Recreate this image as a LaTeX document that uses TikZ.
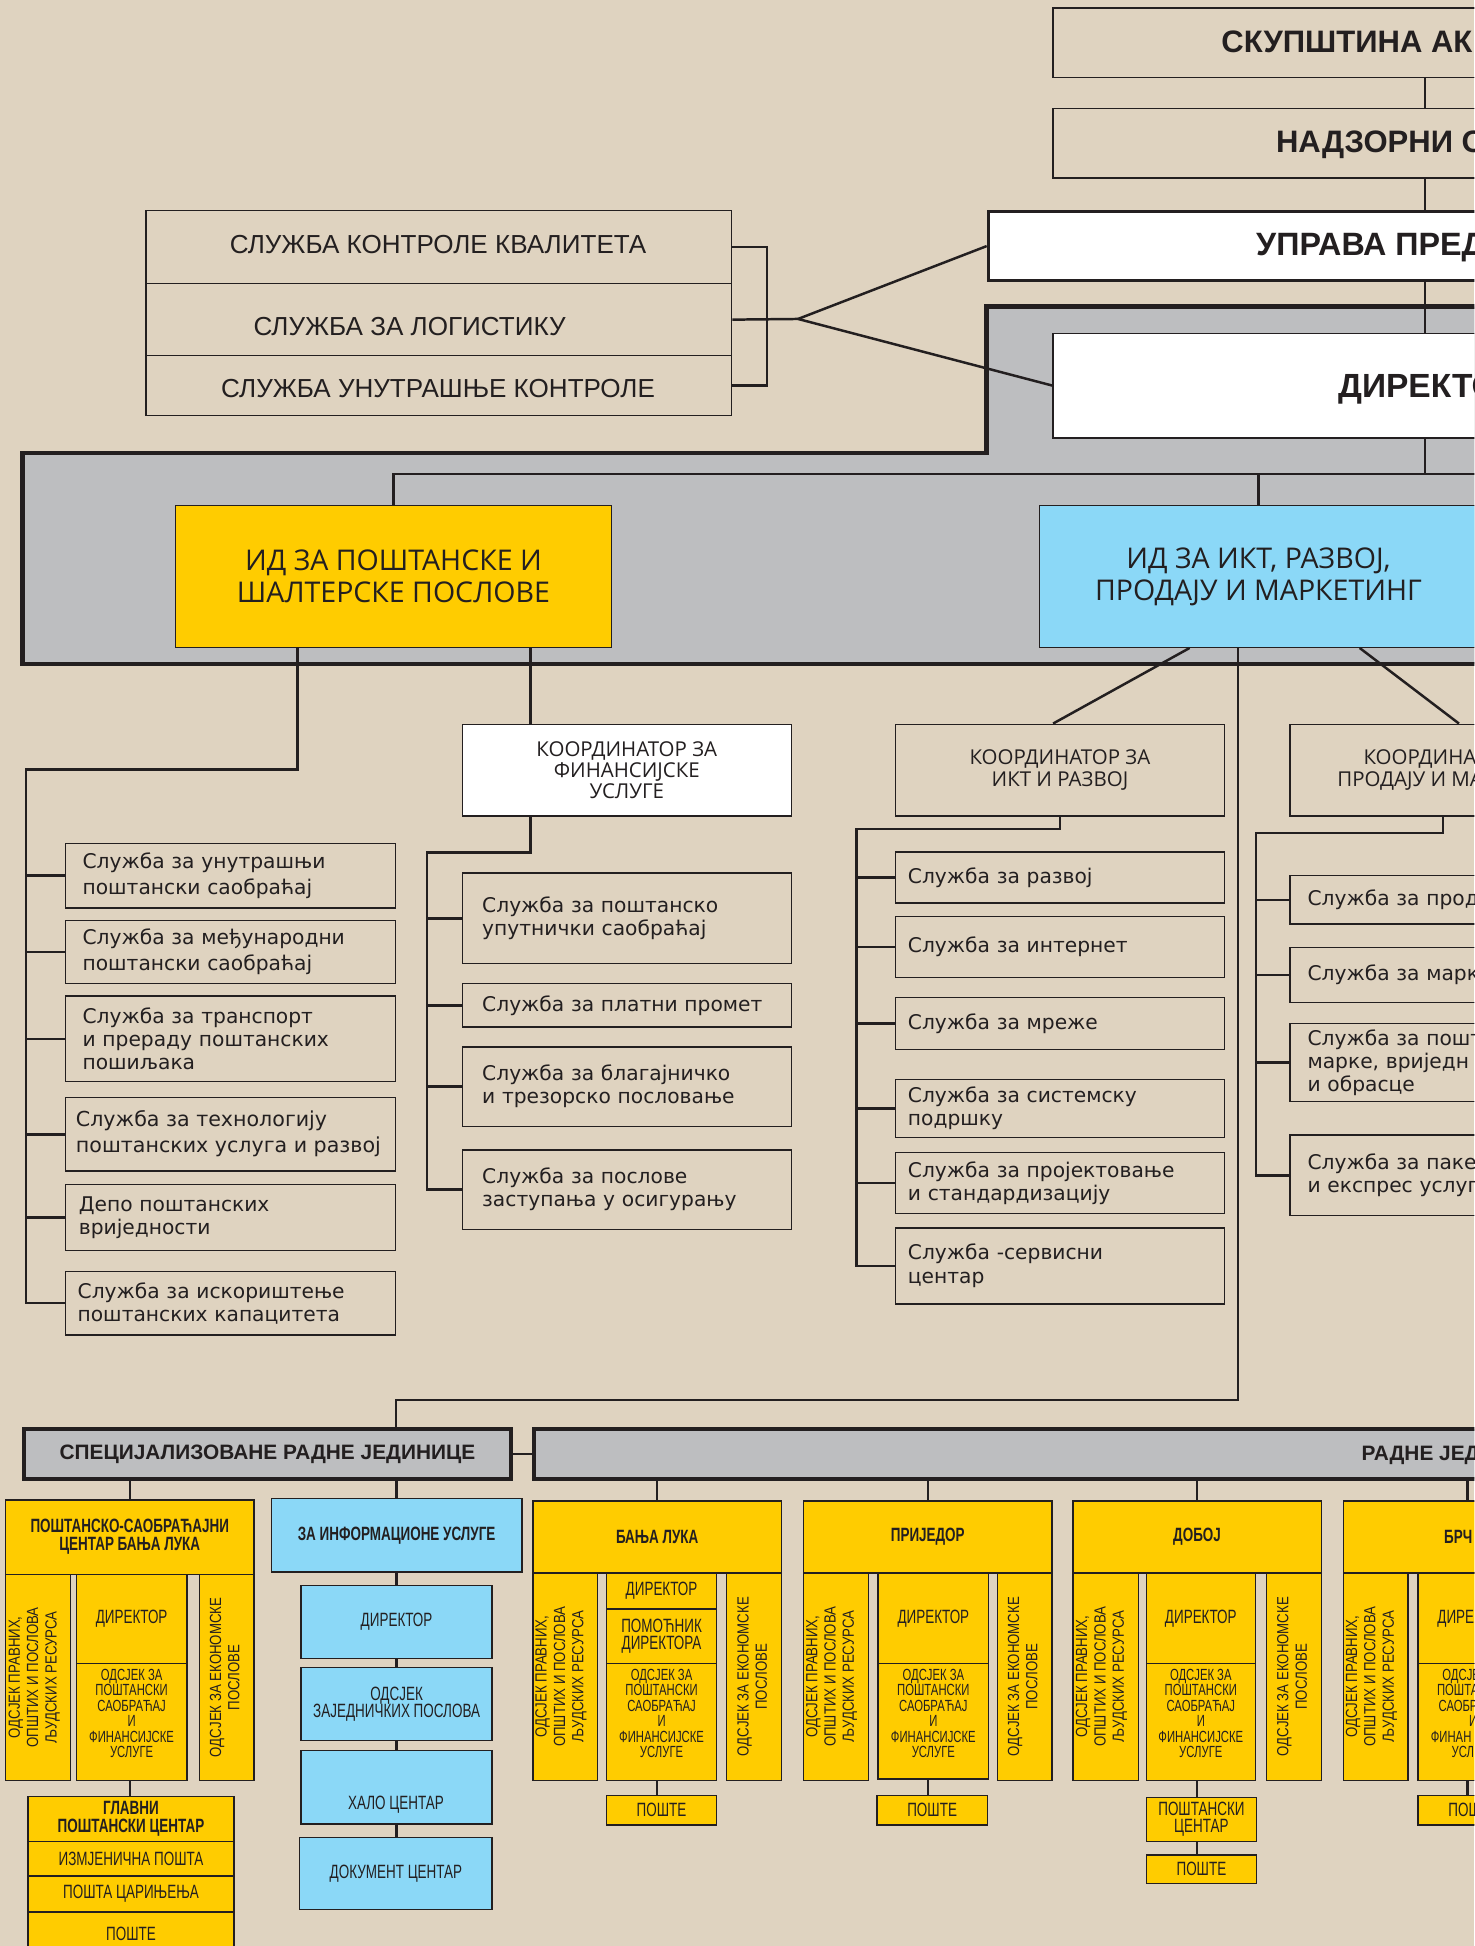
\documentclass[tikz,border=0pt]{standalone}
\usepackage{fontspec}
\setmainfont{Liberation Sans}
\newfontfamily\arialf{Liberation Sans}
\newfontfamily\condf[FakeStretch=0.7]{Liberation Sans}
\newfontfamily\condr[FakeStretch=0.82]{Liberation Sans}
\newfontfamily\opensf{Open Sans}
\newfontfamily\verdf{DejaVu Sans}
\definecolor{bg}{RGB}{223,211,192}
\definecolor{grayc}{RGB}{189,190,192}
\definecolor{yel}{RGB}{255,204,0}
\definecolor{lblue}{RGB}{139,216,247}
\definecolor{ink}{RGB}{35,31,32}
\newcommand{\mybox}[7][]{\pgfmathsetmacro\bw{#5-#3}\pgfmathsetmacro\bh{#6-#4}\node[box,minimum width=\bw pt,minimum height=\bh pt,#1] (#2) at (#3,#4) {#7};}
\newcommand{\mysbox}[8][]{\pgfmathsetmacro\bw{#5-#3-2*#7}\pgfmathsetmacro\bh{#6-#4}\node[box,align=left,text width=\bw pt,inner xsep=#7pt,minimum height=\bh pt,fSv,#1] (#2) at (#3,#4) {#8};}
\newcommand{\odjtxt}{ОДСЈЕК ЗА\\ПОШТАНСКИ\\САОБРАЋАЈ\\И\\ФИНАНСИЈСКЕ\\УСЛУГЕ}
\newcommand{\pravtxt}{ОДСЈЕК ПРАВНИХ,\\ОПШТИХ И ПОСЛОВА\\ЉУДСКИХ РЕСУРСА}
\newcommand{\ekotxt}{ОДСЈЕК ЗА ЕКОНОМСКЕ\\ПОСЛОВЕ}
\begin{document}
\begin{tikzpicture}[x=1pt,y=-1pt,
 box/.style={draw=ink,line width=1.1pt,inner sep=0pt,anchor=north west,align=center,text=ink},
 conn/.style={draw=ink,line width=2pt},
 lbl/.style={inner sep=0pt,text=ink,align=center},
 fTop/.style={font=\arialf\bfseries\fontsize{25}{27}\selectfont},
 fQ/.style={font=\arialf\fontsize{21}{23}\selectfont},
 fId/.style={font=\opensf\fontsize{23}{25.5}\selectfont},
 fCo/.style={font=\opensf\fontsize{16.5}{17}\selectfont},
 fSv/.style={font=\verdf\fontsize{16.3}{18.5}\selectfont},
 fSpec/.style={font=\arialf\bfseries\fontsize{16.8}{19}\selectfont},
 fHd/.style={font=\condf\bfseries\fontsize{15.5}{14.5}\selectfont},
 fRg/.style={font=\condf\fontsize{15.5}{14}\selectfont},
 fSm/.style={font=\condf\fontsize{13}{12.4}\selectfont},
 fRot/.style={font=\condr\fontsize{13}{14.8}\selectfont,rotate=90},
 yb/.style={fill=yel},
 bb/.style={fill=lblue},
]
\useasboundingbox (0,0) rectangle (1188,1568);
\clip (0,0) rectangle (1188,1568);
\fill[bg] (0,0) rectangle (1188,1568);

% gray band
\filldraw[fill=grayc,draw=ink,line width=3.5pt] (1260,247) -- (795,247) -- (795,365) -- (18,365) -- (18,535) -- (1260,535);

% top boxes
\mybox{skup}{848}{6}{1260}{62}{}
\node[lbl,fTop,anchor=base west] (skupt) at (984,42) {СКУПШТИНА АК};
\mybox{nadz}{848}{87}{1260}{143}{}
\node[lbl,fTop,anchor=base west] (nadzt) at (1028,123) {НАДЗОРНИ О};
\mybox[fill=white,line width=2.6pt]{upr}{795}{169}{1260}{225}{}
\node[lbl,font=\arialf\bfseries\fontsize{26}{28}\selectfont,anchor=base west] (uprt) at (1012,205.5) {УПРАВА ПРЕД};
\mybox[fill=white,line width=1.4pt]{dir}{848}{268}{1260}{352}{}
\node[lbl,font=\arialf\bfseries\fontsize{27}{29}\selectfont,anchor=base west] (dirt) at (1078,320) {ДИРЕКТО};

% quality / logistics / internal control
\mybox{sq1}{117}{169}{589}{228}{}
\mybox{sq2}{117}{228}{589}{286}{}
\mybox{sq3}{117}{286}{589}{334}{}
\node[lbl,fQ,anchor=base] (sq1t) at (353,204.5) {СЛУЖБА КОНТРОЛЕ КВАЛИТЕТА};
\node[lbl,fQ,anchor=base] (sq2t) at (330,270.5) {СЛУЖБА ЗА ЛОГИСТИКУ};
\node[lbl,fQ,anchor=base] (sq3t) at (353,320.5) {СЛУЖБА УНУТРАШЊЕ КОНТРОЛЕ};

% ID boxes
\mybox[yb,fId]{idpost}{141}{407}{492}{521}{ИД ЗА ПОШТАНСКЕ И\\ШАЛТЕРСКЕ ПОСЛОВЕ}
\mybox[bb,fId]{idikt}{837}{407}{1190}{521}{ИД ЗА ИКТ, РАЗВОЈ,\\ПРОДАЈУ И МАРКЕТИНГ}

% left services
\mysbox[font=\verdf\fontsize{16.3}{21}\selectfont]{ls1}{52}{679}{318}{731}{14}{Служба за унутрашњи\\поштански саобраћај}
\mysbox[font=\verdf\fontsize{16.3}{21}\selectfont]{ls2}{52}{741}{318}{792}{14}{Служба за међународни\\поштански саобраћај}
\mysbox{ls3}{52}{802}{318}{871}{14}{Служба за транспорт\\и прераду поштанских\\пошиљака}
\mybox{ls4}{52}{884}{318}{943}{}
\node[lbl,align=left,anchor=west,font=\verdf\fontsize{16.6}{21}\selectfont] (ls4t) at (61,913.5) {Служба за технологију\\поштанских услуга и развој};
\mysbox[font=\verdf\fontsize{16.3}{19}\selectfont]{ls5}{52}{954}{318}{1007}{11}{Депо поштанских\\вриједности}
\mysbox{ls6}{52}{1024}{318}{1075}{10}{Служба за искориштење\\поштанских капацитета}

% financial
\mybox[fill=white,fCo]{fink}{372}{583}{637}{657}{КООРДИНАТОР ЗА\\ФИНАНСИЈСКЕ\\УСЛУГЕ}
\mysbox{fs1}{372}{703}{637}{776}{16}{Служба за поштанско\\упутнички саобраћај}
\mysbox{fs2}{372}{792}{637}{827}{16}{Служба за платни промет}
\mysbox{fs3}{372}{843}{637}{907}{16}{Служба за благајничко\\и трезорско пословање}
\mysbox{fs4}{372}{926}{637}{990}{16}{Служба за послове\\заступања у осигурању}

% ICT
\mybox[font=\opensf\fontsize{16.5}{18}\selectfont]{ikk}{721}{583}{986}{657}{КООРДИНАТОР ЗА\\ИКТ И РАЗВОЈ}
\mysbox{is1}{721}{686}{986}{727}{10}{Служба за развој}
\mysbox{is2}{721}{738}{986}{787}{10}{Служба за интернет}
\mysbox{is3}{721}{803}{986}{845}{10}{Служба за мреже}
\mysbox{is4}{721}{869}{986}{916}{10}{Служба за системску\\подршку}
\mysbox{is5}{721}{928}{986}{977}{10}{Служба за пројектовање\\и стандардизацију}
\mysbox[font=\verdf\fontsize{16.3}{19}\selectfont]{is6}{721}{989}{986}{1050}{10}{Служба -сервисни\\центар}

% sales
\mybox[font=\opensf\fontsize{16.5}{18}\selectfont]{prk}{1039}{583}{1304}{657}{КООРДИНА\phantom{ТОР ЗА}\\ПРОДАЈУ И МА\phantom{РКЕТИНГ}}
\mysbox{ps1}{1039}{705}{1300}{744}{14}{Служба за прод}
\mysbox{ps2}{1039}{763}{1300}{807}{14}{Служба за марк}
\mysbox{ps3}{1039}{824}{1300}{887}{14}{Служба за пошт\\марке, вриједн\\и обрасце}
\mysbox[font=\verdf\fontsize{16.3}{19}\selectfont]{ps4}{1039}{914}{1300}{979}{14}{Служба за пакет\\и експрес услуг}

% bottom bands
\mybox[fill=grayc,line width=3pt,fSpec]{spec}{18}{1150}{410}{1190}{СПЕЦИЈАЛИЗОВАНЕ РАДНЕ ЈЕДИНИЦЕ}
\mybox[fill=grayc,line width=3pt]{radne}{429}{1150}{1260}{1190}{}
\node[lbl,fSpec,anchor=base west] (radnet) at (1097,1177) {РАДНЕ ЈЕД};

% postal traffic centre
\mybox[yb,fHd]{pscb}{4}{1208}{204}{1268}{ПОШТАНСКО-САОБРАЋАЈНИ\\ЦЕНТАР БАЊА ЛУКА}
\mybox[yb]{pscl}{4}{1268}{56}{1434}{}
\mybox[yb,fRg]{pscd}{61}{1268}{150}{1340}{ДИРЕКТОР}
\mybox[yb]{psco}{61}{1340}{150}{1434}{}
\mybox[yb]{pscr}{160}{1268}{204}{1434}{}
\node[lbl,fRot] (psclt) at ([xshift=-3pt]pscl.center) {\pravtxt};
\node[lbl,fRot] (pscrt) at ([xshift=-1.5pt]pscr.center) {\ekotxt};
\node[lbl,fSm] (pscot) at ([yshift=7pt]psco.center) {\odjtxt};
\mybox[yb,fHd]{glav}{22}{1447}{188}{1483}{ГЛАВНИ\\ПОШТАНСКИ ЦЕНТАР}
\mybox[yb,fRg]{izm}{22}{1483}{188}{1511}{ИЗМЈЕНИЧНА ПОШТА}
\mybox[yb,fRg]{car}{22}{1511}{188}{1540}{ПОШТА ЦАРИЊЕЊА}
\mybox[yb,fRg]{pos0}{22}{1540}{188}{1575}{ПОШТЕ}

% information services
\mybox[bb,fHd]{info}{218}{1207}{420}{1266}{ЗА ИНФОРМАЦИОНЕ УСЛУГЕ}
\mybox[bb,fRg]{idir}{242}{1277}{396}{1336}{ДИРЕКТОР}
\mybox[bb,fRg]{iodj}{242}{1343}{396}{1402}{ОДСЈЕК\\ЗАЈЕДНИЧКИХ ПОСЛОВА}
\mybox[bb]{ihalo}{242}{1410}{396}{1469}{}
\node[lbl,fRg] (ihalot) at (319,1454) {ХАЛО ЦЕНТАР};
\mybox[bb,fRg]{idok}{241}{1480}{396}{1538}{ДОКУМЕНТ ЦЕНТАР}

% Banja Luka
\mybox[yb,fHd]{bl}{429}{1209}{629}{1267}{БАЊА ЛУКА}
\mybox[yb]{bll}{429}{1267}{481}{1434}{}
\mybox[yb,fRg]{bld}{488}{1267}{577}{1296}{ДИРЕКТОР}
\mybox[yb,fRg]{blp}{488}{1296}{577}{1340}{ПОМОЋНИК\\ДИРЕКТОРА}
\mybox[yb]{blo}{488}{1340}{577}{1434}{}
\mybox[yb]{blr}{585}{1267}{629}{1434}{}
\mybox[yb,fRg]{blpo}{488}{1446}{577}{1470}{ПОШТЕ}
\node[lbl,fRot] (bllt) at ([xshift=-3.5pt]bll.center) {\pravtxt};
\node[lbl,fRot] (blrt) at ([xshift=-1.5pt]blr.center) {\ekotxt};
\node[lbl,fSm] (blot) at ([yshift=7pt]blo.center) {\odjtxt};

% Prijedor
\mybox[yb,fHd]{pd}{647}{1209}{847}{1267}{ПРИЈЕДОР}
\mybox[yb]{pdl}{647}{1267}{699}{1434}{}
\mybox[yb,fRg]{pdd}{707}{1267}{796}{1340}{ДИРЕКТОР}
\mybox[yb]{pdo}{707}{1340}{796}{1433}{}
\mybox[yb]{pdr}{803}{1267}{847}{1434}{}
\mybox[yb,fRg]{pdpo}{706}{1446}{795}{1470}{ПОШТЕ}
\node[lbl,fRot] (pdlt) at ([xshift=-3.5pt]pdl.center) {\pravtxt};
\node[lbl,fRot] (pdrt) at ([xshift=-1.5pt]pdr.center) {\ekotxt};
\node[lbl,fSm] (pdot) at ([yshift=6.5pt]pdo.center) {\odjtxt};

% Doboj
\mybox[yb,fHd]{db}{864}{1209}{1064}{1267}{ДОБОЈ}
\mybox[yb]{dbl}{864}{1267}{917}{1434}{}
\mybox[yb,fRg]{dbd}{923}{1267}{1011}{1340}{ДИРЕКТОР}
\mybox[yb]{dbo}{923}{1340}{1011}{1434}{}
\mybox[yb]{dbr}{1020}{1267}{1064}{1434}{}
\mybox[yb,fRg]{dbpc}{923}{1448}{1012}{1483}{ПОШТАНСКИ\\ЦЕНТАР}
\mybox[yb,fRg]{dbpo}{923}{1494}{1012}{1517}{ПОШТЕ}
\node[lbl,fRot] (dblt) at ([xshift=-3.5pt]dbl.center) {\pravtxt};
\node[lbl,fRot] (dbrt) at ([xshift=-1.5pt]dbr.center) {\ekotxt};
\node[lbl,fSm] (dbot) at ([yshift=7pt]dbo.center) {\odjtxt};

% Brcko
\mybox[yb,fHd]{brc}{1082}{1209}{1282}{1267}{БРЧ\phantom{КО}}
\mybox[yb]{brcl}{1082}{1267}{1134}{1434}{}
\mybox[yb,fRg]{brcd}{1142}{1267}{1231}{1340}{ДИРЕ\phantom{КТОР}}
\mybox[yb]{brco}{1142}{1340}{1231}{1434}{}
\mybox[yb,fRg]{brcpo}{1142}{1446}{1231}{1470}{ПОШ\phantom{ТЕ}}
\node[lbl,fRot] (brclt) at ([xshift=-3.5pt]brcl.center) {\pravtxt};
\node[lbl,fSm] (brcot) at ([yshift=7pt]brco.center) {ОДСЈЕ\phantom{К ЗА}\\ПОШТА\phantom{НСКИ}\\САОБР\phantom{АЋАЈ}\\И\\ФИНАН\phantom{СИЈСКЕ}\\УСЛ\phantom{УГЕ}};

% ---------- connectors ----------
\coordinate (spine) at (1148,0);
\coordinate (hubR) at (1260,382);
\draw[conn] (skup.south -| spine) -- (nadz.north -| spine);
\draw[conn] (nadz.south -| spine) -- (upr.north -| spine);
\draw[conn] (upr.south -| spine) -- (dir.north -| spine);
\draw[conn] (dir.south -| spine) -- (spine |- hubR);
\draw[conn] (idpost.north) |- (hubR);
\draw[conn] (idikt.north) -- (idikt.north |- hubR);

\coordinate (brk) at (643,257);
\draw[conn] (sq1.east) -| ([xshift=28pt]sq3.east) -- (sq3.east);
\draw[conn] (sq2.east) -- (brk);
\draw[conn] (brk) -- (upr.west);
\draw[conn] (brk) -- (dir.west);

\coordinate (pA) at ([xshift=-77.5pt]idpost.south);
\coordinate (pB) at ([xshift=110.5pt]idpost.south);
\coordinate (ltop) at (21,620);
\draw[conn] (pA) |- (ltop) -- (ltop |- ls6.west) -- (ls6.west);
\foreach \n in {ls1,ls2,ls3,ls4,ls5} \draw[conn] (ltop |- \n.west) -- (\n.west);
\draw[conn] (pB) -- (pB |- fink.north);
\coordinate (ftop) at (344,687);
\draw[conn] (pB |- fink.south) |- (ftop) -- (ftop |- fs4.west) -- (fs4.west);
\foreach \n in {fs1,fs2,fs3} \draw[conn] (ftop |- \n.west) -- (\n.west);

\coordinate (d1) at ([xshift=-55.5pt]idikt.south);
\coordinate (d2) at ([xshift=81.5pt]idikt.south);
\coordinate (d3) at ([xshift=-16.5pt]idikt.south);
\draw[conn] (d1) -- ([xshift=-5.5pt]ikk.north);
\draw[conn] (d2) -- ([xshift=3.5pt]prk.north);
\coordinate (vc) at (319,1128);
\draw[conn] (d3) |- (vc) -- (vc |- spec.north);

\coordinate (itop) at (690,668);
\draw[conn] (ikk.south) |- (itop) -- (itop |- is6.west) -- (is6.west);
\foreach \n in {is1,is2,is3,is4,is5} \draw[conn] (itop |- \n.west) -- (\n.west);
\coordinate (pC) at ([xshift=-9.5pt]prk.south);
\coordinate (ptop) at (1012,671);
\draw[conn] (pC) |- (ptop) -- (ptop |- ps4.west) -- (ps4.west);
\foreach \n in {ps1,ps2,ps3} \draw[conn] (ptop |- \n.west) -- (\n.west);

\draw[conn] (spec.east) -- (spec.east -| radne.west);
\draw[conn] (pscb.north) -- (pscb.north |- spec.south);
\draw[conn] (info.north) -- (info.north |- spec.south);
\draw[conn] (pscb.north |- psco.south) -- (pscb.north |- glav.north);
\draw[conn] (info.south) -- (idir.north);
\draw[conn] (idir.south) -- (iodj.north);
\draw[conn] (iodj.south) -- (ihalo.north);
\draw[conn] (ihalo.south) -- (idok.north -| ihalo.south);
\foreach \c/\o/\p in {bl/blo/blpo,pd/pdo/pdpo,db/dbo/dbpc,brc/brco/brcpo}{
  \draw[conn] (\c.north) -- (\c.north |- radne.south);
  \draw[conn] (\c.north |- \o.south) -- (\c.north |- \p.north);
}
\draw[conn] (db.north |- dbpc.south) -- (db.north |- dbpo.north);
\end{tikzpicture}
\end{document}
